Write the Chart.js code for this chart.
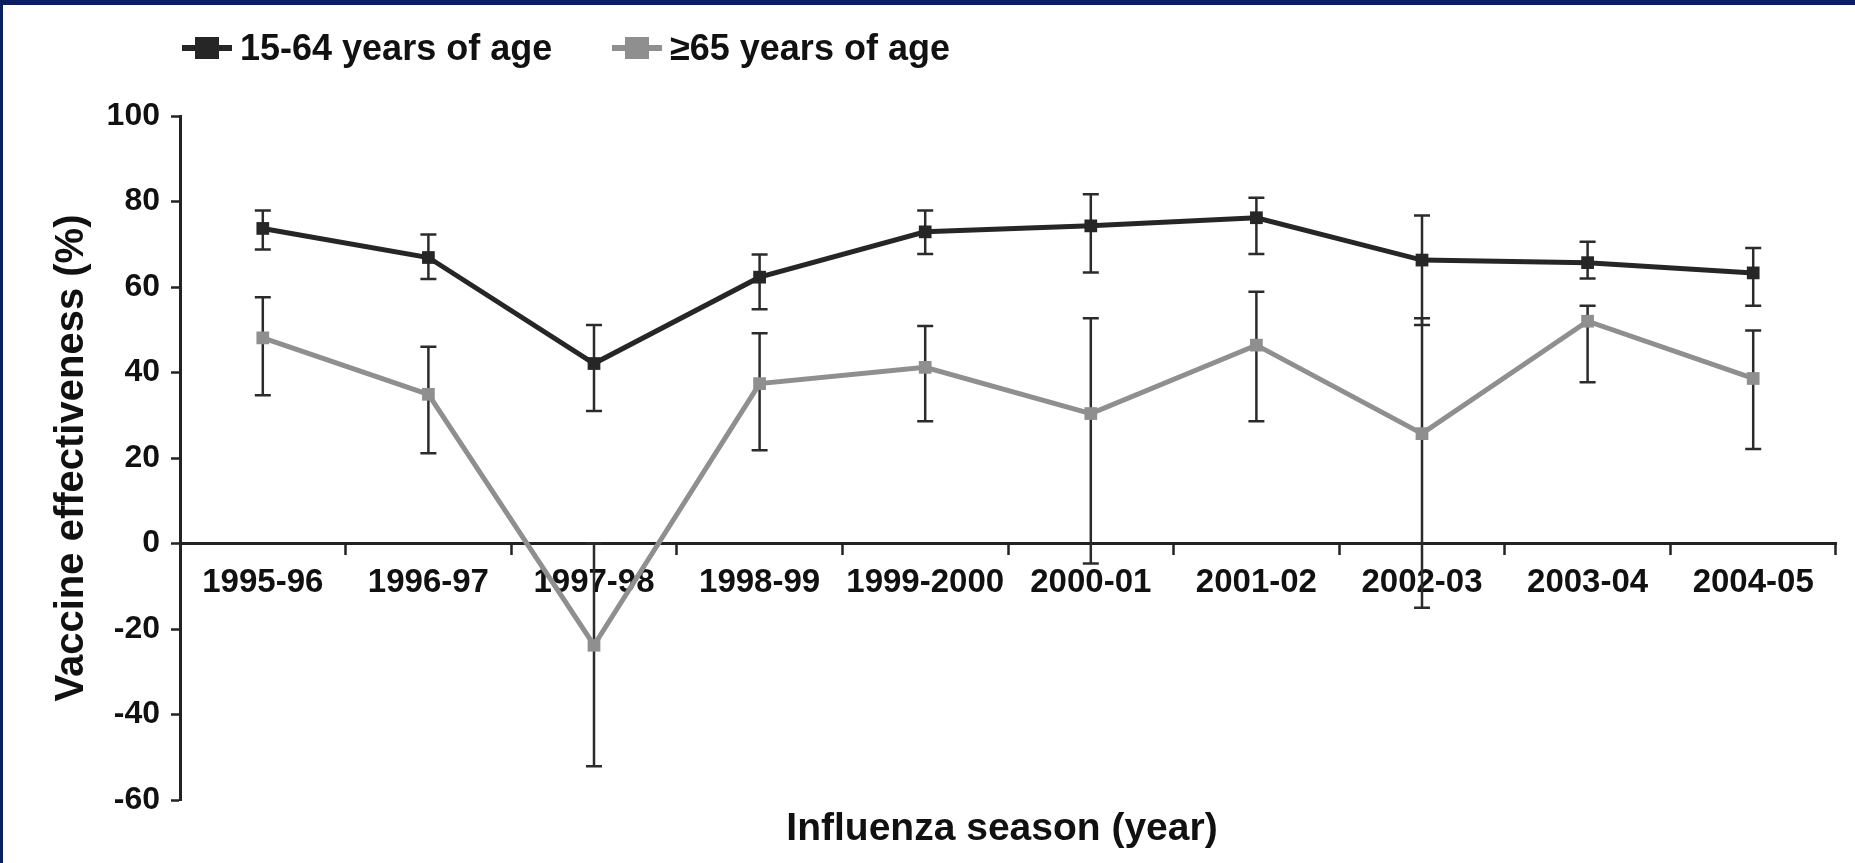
<!DOCTYPE html>
<html>
<head>
<meta charset="utf-8">
<script src="https://cdn.jsdelivr.net/npm/chart.js@4.4.1/dist/chart.umd.min.js"></script>
<style>
  body { margin: 0; background: #fff; }
  #wrap { position: relative; width: 1855px; height: 863px; overflow: hidden; }
  .frame { position: absolute; background: #0b1f5e; }
</style>
</head>
<body>
<div id="wrap">
  <canvas id="veChart" width="1855" height="863"></canvas>
  <div class="frame" style="left:0;top:0;width:1855px;height:5px"></div>
  <div class="frame" style="left:0;top:0;width:3px;height:863px"></div>
</div>
<script>
// seasons on the x axis
const seasons = ["1995-96", "1996-97", "1997-98", "1998-99", "1999-2000",
  "2000-01", "2001-02", "2002-03", "2003-04", "2004-05"];

// 15-64 years of age: estimate and 95% CI
const ve1564 = [73.7, 66.9, 42.1, 62.3, 72.9, 74.3, 76.2, 66.3, 65.7, 63.3];
const lo1564 = [68.8, 61.9, 31.0, 54.8, 67.7, 63.4, 67.7, 51.1, 62.0, 55.6];
const hi1564 = [77.9, 72.3, 51.1, 67.6, 77.9, 81.7, 80.9, 76.7, 70.6, 69.1];

// >=65 years of age: estimate and 95% CI
const ve65 = [48.1, 34.9, -23.8, 37.4, 41.2, 30.4, 46.4, 25.7, 52.0, 38.6];
const lo65 = [34.7, 21.1, -52.1, 21.8, 28.6, -4.7, 28.6, -15.0, 37.7, 22.1];
const hi65 = [57.6, 46.0, 0, 49.2, 50.9, 52.7, 58.9, 52.7, 55.6, 49.8];

const yTicks = [100, 80, 60, 40, 20, 0, -20, -40, -60];

const darkColor = "#262626";
const greyColor = "#8f8f8f";
const barColor = "#2b2b2b";
const font = "'Liberation Sans', Arial, Helvetica, sans-serif";

// whiskers for the confidence intervals, drawn under the lines
const errorBars = {
  id: "errorBars",
  beforeDatasetsDraw(chart) {
    const { ctx, scales: { x, y } } = chart;
    ctx.save();
    ctx.strokeStyle = barColor;
    ctx.lineWidth = 2.5;
    [[lo1564, hi1564], [lo65, hi65]].forEach(([lo, hi]) => {
      seasons.forEach((s, i) => {
        const px = x.getPixelForValue(i);
        const yl = y.getPixelForValue(lo[i]);
        const yh = y.getPixelForValue(hi[i]);
        ctx.beginPath();
        ctx.moveTo(px, yl);
        ctx.lineTo(px, yh);
        ctx.moveTo(px - 8, yl);
        ctx.lineTo(px + 8, yl);
        ctx.moveTo(px - 8, yh);
        ctx.lineTo(px + 8, yh);
        ctx.stroke();
      });
    });
    ctx.restore();
  },
};

// legend (line + square marker) and the two axis titles
const legendX = [182, 612];
const extras = {
  id: "extras",
  afterDraw(chart) {
    const ctx = chart.ctx;
    const area = chart.chartArea;
    ctx.save();
    ctx.font = "bold 36px " + font;
    ctx.textBaseline = "middle";
    chart.data.datasets.forEach((ds, i) => {
      const x0 = legendX[i];
      const yc = 48;
      ctx.fillStyle = ds.borderColor;
      ctx.fillRect(x0, yc - 3, 50, 6);
      ctx.fillRect(x0 + 13, yc - 11, 24, 22);
      ctx.fillStyle = "#111";
      ctx.fillText(ds.label, x0 + 58, yc + 2);
    });

    ctx.font = "bold 39px " + font;
    ctx.textAlign = "center";
    ctx.textBaseline = "alphabetic";
    ctx.fillText("Influenza season (year)", (area.left + area.right) / 2 - 6, 840);

    ctx.font = "bold 40px " + font;
    ctx.translate(83, (area.top + area.bottom) / 2);
    ctx.rotate(-Math.PI / 2);
    ctx.fillText("Vaccine effectiveness (%)", 0, 0);
    ctx.restore();
  },
};

new Chart(document.getElementById("veChart"), {
  type: "line",
  data: {
    labels: seasons,
    datasets: [
      {
        label: "15-64 years of age",
        data: ve1564,
        borderColor: darkColor,
        backgroundColor: darkColor,
        borderWidth: 5,
        pointStyle: "rect",
        pointRadius: 9,
        pointBorderWidth: 0,
        tension: 0,
      },
      {
        label: "\u226565 years of age",
        data: ve65,
        borderColor: greyColor,
        backgroundColor: greyColor,
        borderWidth: 5,
        pointStyle: "rect",
        pointRadius: 9,
        pointBorderWidth: 0,
        tension: 0,
      },
    ],
  },
  options: {
    responsive: false,
    animation: false,
    devicePixelRatio: 1,
    layout: { padding: { left: 0, top: 116, right: 19, bottom: 63 } },
    plugins: {
      legend: { display: false },
      tooltip: { enabled: false },
    },
    scales: {
      x: {
        type: "category",
        position: { y: 0 },
        offset: true,
        grid: {
          offset: true,
          drawOnChartArea: false,
          drawTicks: true,
          tickLength: 10,
          tickWidth: 2.5,
          tickColor: "#222",
        },
        border: { display: true, color: "#222", width: 3 },
        ticks: {
          color: "#111",
          font: { family: font, size: 33, weight: "bold" },
          padding: 10,
          maxRotation: 0,
          autoSkip: false,
        },
      },
      y: {
        min: -60,
        max: 100,
        afterFit(scale) {
          scale.width = 180;
        },
        afterBuildTicks(scale) {
          scale.ticks = yTicks.map((v) => ({ value: v }));
        },
        grid: {
          drawOnChartArea: false,
          drawTicks: true,
          tickLength: 9,
          tickWidth: 2.5,
          tickColor: "#222",
        },
        border: { display: true, color: "#222", width: 3 },
        ticks: {
          color: "#111",
          font: { family: font, size: 32, weight: "bold" },
          padding: 11,
        },
      },
    },
  },
  plugins: [errorBars, extras],
});
</script>
</body>
</html>
